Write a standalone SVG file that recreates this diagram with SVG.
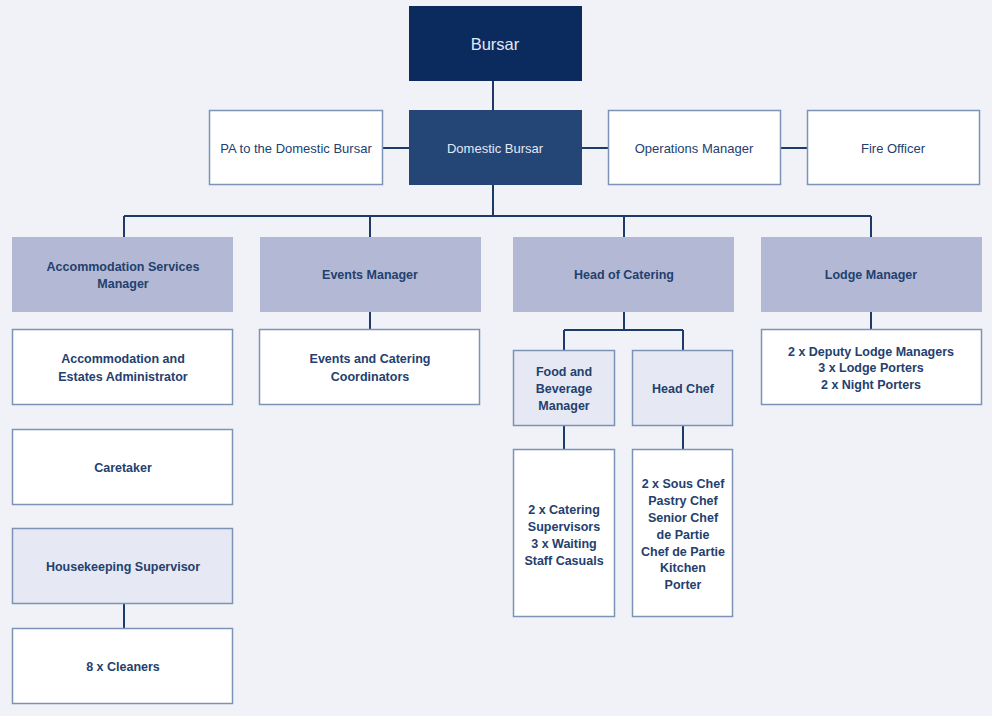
<svg xmlns="http://www.w3.org/2000/svg" width="992" height="716" viewBox="0 0 992 716">
<style>
.bg{fill:#f1f2f8}
.b{stroke:#7d93b6;stroke-width:1.5}
.w{fill:#ffffff}
.m{fill:#b3b9d4}
.l{fill:#e6e9f3}
.d1{fill:#0b2a5e}
.d2{fill:#244677}
text{font-family:"Liberation Sans",Arial,sans-serif;font-size:12.5px;text-anchor:middle;fill:#24406e}
.t{font-weight:bold}
.n{font-size:13px}
.wt{fill:#e3e8f2}
#conn path{fill:none;stroke:#1e3a69;stroke-width:2}
</style>
<rect class="bg" x="0" y="0" width="992" height="716"/>
<g id="conn">
<path d="M493 81V110M383 148H409M582 148H608M781 148H807M493 185V216M124 216H871M124 216V237M370 216V237M624 216V237M871 216V237"/>
<path d="M370 312V329M871 312V329M124 604V628"/>
<path d="M624 312V330M564 330H683M564 330V350M683 330V350M564 425V449M683 425V449"/>
</g>
<g id="bursar"><rect class="d1" x="409" y="6" width="173" height="75"/><text class="wt" x="495" y="50" style="font-size:16.5px">Bursar</text></g>
<g id="pa"><rect class="w b" x="209.5" y="110.5" width="173" height="74"/><text class="n" x="296" y="153">PA to the Domestic Bursar</text></g>
<g id="domestic"><rect class="d2" x="409" y="110" width="173" height="75"/><text class="wt n" x="495" y="153">Domestic Bursar</text></g>
<g id="ops"><rect class="w b" x="608.5" y="110.5" width="172" height="74"/><text class="n" x="694" y="153">Operations Manager</text></g>
<g id="fire"><rect class="w b" x="807.5" y="110.5" width="172" height="74"/><text class="n" x="893" y="153">Fire Officer</text></g>
<g id="acc"><rect class="m" x="12" y="237" width="221" height="75"/><text class="t" x="123" y="271">Accommodation Services</text><text class="t" x="123" y="288">Manager</text></g>
<g id="events"><rect class="m" x="260" y="237" width="221" height="75"/><text class="t" x="370" y="279">Events Manager</text></g>
<g id="catering"><rect class="m" x="513" y="237" width="221" height="75"/><text class="t" x="624" y="279">Head of Catering</text></g>
<g id="lodge"><rect class="m" x="761" y="237" width="221" height="75"/><text class="t" x="871" y="279">Lodge Manager</text></g>
<g id="accadmin"><rect class="w b" x="12.5" y="329.5" width="220" height="75"/><text class="t" x="123" y="363">Accommodation and</text><text class="t" x="123" y="381">Estates Administrator</text></g>
<g id="coord"><rect class="w b" x="259.5" y="329.5" width="220" height="75"/><text class="t" x="370" y="363">Events and Catering</text><text class="t" x="370" y="381">Coordinators</text></g>
<g id="lodgestaff"><rect class="w b" x="761.5" y="329.5" width="220" height="75"/><text class="t" x="871" y="356">2 x Deputy Lodge Managers</text><text class="t" x="871" y="372">3 x Lodge Porters</text><text class="t" x="871" y="389">2 x Night Porters</text></g>
<g id="caretaker"><rect class="w b" x="12.5" y="429.5" width="220" height="75"/><text class="t" x="123" y="472">Caretaker</text></g>
<g id="housekeeping"><rect class="l b" x="12.5" y="528.5" width="220" height="75"/><text class="t" x="123" y="571">Housekeeping Supervisor</text></g>
<g id="cleaners"><rect class="w b" x="12.5" y="628.5" width="220" height="75"/><text class="t" x="123" y="671">8 x Cleaners</text></g>
<g id="fb"><rect class="l b" x="513.5" y="350.5" width="101" height="75"/><text class="t" x="564" y="376">Food and</text><text class="t" x="564" y="393">Beverage</text><text class="t" x="564" y="410">Manager</text></g>
<g id="headchef"><rect class="l b" x="632.5" y="350.5" width="100" height="75"/><text class="t" x="683" y="393">Head Chef</text></g>
<g id="fbstaff"><rect class="w b" x="513.5" y="449.5" width="101" height="167"/><text class="t" x="564" y="514">2 x Catering</text><text class="t" x="564" y="531">Supervisors</text><text class="t" x="564" y="548">3 x Waiting</text><text class="t" x="564" y="565">Staff Casuals</text></g>
<g id="chefstaff"><rect class="w b" x="632.5" y="449.5" width="100" height="167"/><text class="t" x="683" y="488">2 x Sous Chef</text><text class="t" x="683" y="505">Pastry Chef</text><text class="t" x="683" y="522">Senior Chef</text><text class="t" x="683" y="539">de Partie</text><text class="t" x="683" y="556">Chef de Partie</text><text class="t" x="683" y="572">Kitchen</text><text class="t" x="683" y="589">Porter</text></g>
</svg>
